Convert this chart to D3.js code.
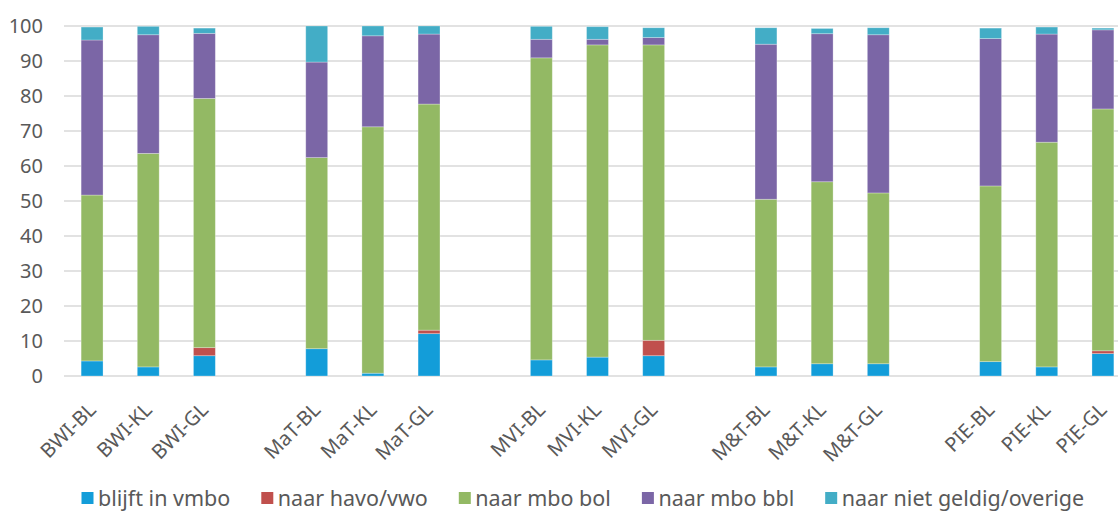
<!DOCTYPE html>
<html>
<head>
<meta charset="utf-8">
<script src="https://cdn.jsdelivr.net/npm/d3@7"></script>
<style>
  html, body { margin: 0; padding: 0; background: #fff; }
  svg { display: block; font-family: "Noto Sans", "Open Sans", sans-serif; }
</style>
</head>
<body>
<svg id="chart" width="1118" height="511"></svg>
<script>
// ---- data ----
const categories = ["BWI-BL","BWI-KL","BWI-GL","MaT-BL","MaT-KL","MaT-GL","MVI-BL","MVI-KL","MVI-GL","M&T-BL","M&T-KL","M&T-GL","PIE-BL","PIE-KL","PIE-GL"];
const seriesNames = ["blijft in vmbo","naar havo/vwo","naar mbo bol","naar mbo bbl","naar niet geldig/overige"];
const blijftInVmbo = [4.3, 2.6, 5.8, 7.8, 0.8, 12.1, 4.6, 5.4, 5.8, 2.6, 3.5, 3.5, 4.1, 2.6, 6.4];
const naarHavoVwo  = [0, 0, 2.3, 0, 0, 1.0, 0, 0, 4.4, 0, 0, 0, 0, 0, 0.8];
const naarMboBol   = [47.4, 61.0, 71.2, 54.6, 70.4, 64.6, 86.3, 89.2, 84.4, 47.9, 52.0, 48.8, 50.2, 64.2, 69.1];
const naarMboBbl   = [44.3, 33.9, 18.6, 27.3, 26.0, 20.0, 5.3, 1.6, 2.1, 44.3, 42.3, 45.2, 42.1, 30.9, 22.6];
const naarOverige  = [3.7, 2.4, 1.5, 10.3, 2.8, 2.3, 3.7, 3.6, 2.8, 4.7, 1.5, 2.0, 3.0, 2.0, 0.5];
const yTicks = [0,10,20,30,40,50,60,70,80,90,100];
const colors = ["#139dd9","#c0504d","#93b964","#7b66a6","#43adc6"];

// ---- build table ----
const seriesValues = [blijftInVmbo, naarHavoVwo, naarMboBol, naarMboBbl, naarOverige];
const keys = seriesNames;
const table = categories.map((c, i) => {
  const row = { cat: c, slot: i + Math.floor(i / 3) };
  keys.forEach((k, j) => row[k] = seriesValues[j][i]);
  return row;
});
const stacked = d3.stack().keys(keys)(table);

const svg = d3.select("#chart");
const nSlots = categories.length + Math.floor((categories.length - 1) / 3);

const x = d3.scaleBand().domain(d3.range(nSlots)).range([64, 1131])
  .paddingInner(0.61).paddingOuter(0.305);
const y = d3.scaleLinear().domain([0, 100]).range([376, 26]);

// gridlines
svg.append("g").selectAll("line").data(yTicks).join("line")
  .attr("x1", 64).attr("x2", 1118)
  .attr("y1", d => y(d)).attr("y2", d => y(d))
  .attr("stroke", "#d9d9d9").attr("stroke-width", 1.5);

// y axis labels
const yAxis = d3.axisLeft(y).tickValues(yTicks).tickSize(0).tickPadding(0);
const yg = svg.append("g").attr("transform", "translate(43,0)").call(yAxis);
yg.select(".domain").remove();
yg.selectAll("text").attr("font-size", 20).attr("fill", "#595959")
  .attr("font-family", "Noto Sans, sans-serif");

// bars
svg.append("g").selectAll("g").data(stacked).join("g")
  .attr("fill", (d, i) => colors[i])
  .selectAll("rect").data(d => d).join("rect")
  .attr("x", d => x(d.data.slot))
  .attr("width", x.bandwidth())
  .attr("y", d => y(d[1]))
  .attr("height", d => Math.max(0, y(d[0]) - y(d[1])))
  .attr("stroke", "#ffffff").attr("stroke-opacity", 0.35).attr("stroke-width", 0.8);

// x labels
svg.append("g").selectAll("text").data(table).join("text")
  .attr("transform", d => `translate(${x(d.slot) + x.bandwidth() / 2 + 5},411) rotate(-45)`)
  .attr("text-anchor", "end")
  .attr("font-size", 20).attr("fill", "#595959")
  .text(d => d.cat);

// legend
const lg = svg.append("g");
let lx = 81.5;
seriesNames.forEach((name, i) => {
  lg.append("rect").attr("x", lx).attr("y", 492).attr("width", 12).attr("height", 12).attr("fill", colors[i]);
  const t = lg.append("text").attr("x", lx + 16.5).attr("y", 498).attr("dy", "0.35em")
    .attr("font-size", 21.5).attr("fill", "#595959").text(name);
  lx += 16.5 + t.node().getComputedTextLength() + 31;
});
</script>
</body>
</html>
